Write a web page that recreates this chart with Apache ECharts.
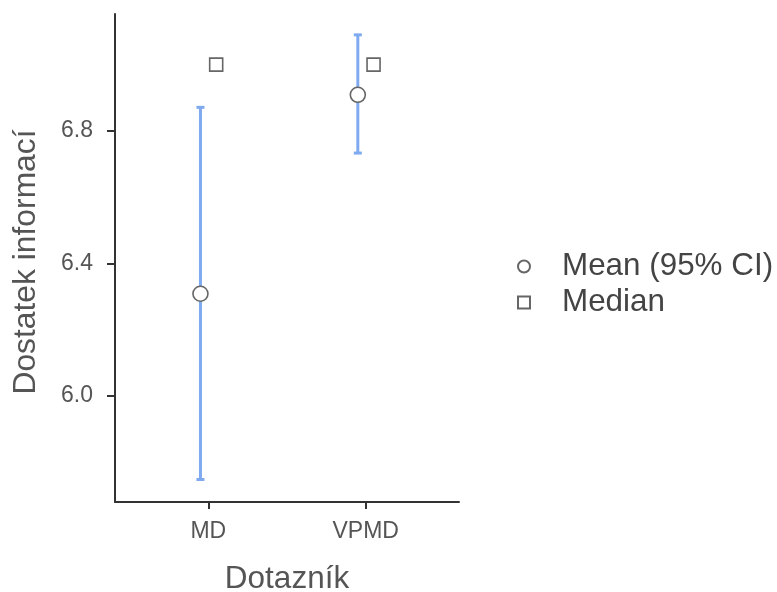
<!DOCTYPE html>
<html>
<head>
<meta charset="utf-8">
<script src="https://cdn.jsdelivr.net/npm/echarts@6/dist/echarts.min.js"></script>
<style>
  html, body { margin: 0; padding: 0; background: #fff; }
  #chart { width: 777px; height: 592px; }
</style>
</head>
<body>
<div id="chart"></div>
<script>
// data
const categories = ['MD', 'VPMD']
const meanValues = [6.308, 6.909]
const ciLower = [5.747, 6.733]
const ciUpper = [6.871, 7.090]
const medianValues = [7.0, 7.0]
const yTicks = [6.0, 6.4, 6.8]

// small horizontal dodge between mean and median (in category units)
const dodge = 0.05
const font = 'Liberation Sans, Arial, sans-serif'

const xPos = categories.map((c, i) => i + 1)

const chart = echarts.init(document.getElementById('chart'))
chart.setOption({
  backgroundColor: '#fff',
  animation: false,
  grid: { left: 115, right: 318, top: 14, bottom: 90, outerBoundsMode: 'none', containLabel: false },
  legend: {
    orient: 'vertical',
    left: 512,
    top: 246,
    padding: 5,
    itemWidth: 12,
    itemHeight: 12,
    itemGap: 5,
    selectedMode: false,
    data: ['Mean (95% CI)', 'Median'],
    textStyle: { fontFamily: font, fontSize: 31.4, color: '#444', padding: [0, 0, 0, 27] }
  },
  xAxis: {
    type: 'value',
    min: 0.407,
    max: 2.593,
    name: 'Dotazník',
    nameLocation: 'middle',
    nameGap: 61,
    nameTextStyle: { fontFamily: font, fontSize: 31.5, color: '#555' },
    splitLine: { show: false },
    axisLine: { lineStyle: { color: '#333', width: 2 } },
    axisTick: { show: true, length: 7, customValues: xPos, lineStyle: { color: '#333', width: 2 } },
    axisLabel: {
      customValues: xPos,
      margin: 18,
      fontFamily: font,
      fontSize: 23,
      color: '#555',
      formatter: v => categories[Math.round(v) - 1] || ''
    }
  },
  yAxis: {
    type: 'value',
    min: 5.679,
    max: 7.153,
    name: 'Dostatek informací',
    nameLocation: 'middle',
    nameGap: 73,
    nameRotate: 90,
    nameTextStyle: { fontFamily: font, fontSize: 31.8, color: '#555', padding: [0, 8, 0, 0] },
    splitLine: { show: false },
    axisLine: { show: true, lineStyle: { color: '#333', width: 2 } },
    axisTick: { show: true, length: 8, customValues: yTicks, lineStyle: { color: '#333', width: 2 } },
    axisLabel: {
      customValues: yTicks,
      margin: 22,
      fontFamily: font,
      fontSize: 23,
      color: '#555',
      formatter: v => v.toFixed(1)
    }
  },
  series: [
    {
      type: 'custom',
      name: 'CI',
      z: 1,
      data: xPos.map((x, i) => [x - dodge, ciLower[i], ciUpper[i]]),
      renderItem: function (params, api) {
        const lo = api.coord([api.value(0), api.value(1)])
        const hi = api.coord([api.value(0), api.value(2)])
        const cap = 4
        const style = { stroke: '#7faaf0', lineWidth: 3 }
        return {
          type: 'group',
          children: [
            { type: 'line', shape: { x1: lo[0], y1: lo[1], x2: hi[0], y2: hi[1] }, style: style },
            { type: 'line', shape: { x1: lo[0] - cap, y1: lo[1], x2: lo[0] + cap, y2: lo[1] }, style: style },
            { type: 'line', shape: { x1: hi[0] - cap, y1: hi[1], x2: hi[0] + cap, y2: hi[1] }, style: style }
          ]
        }
      }
    },
    {
      type: 'scatter',
      name: 'Mean (95% CI)',
      z: 3,
      symbol: 'circle',
      symbolSize: 15,
      itemStyle: { color: '#fff', borderColor: '#666', borderWidth: 1.6, opacity: 1 },
      data: xPos.map((x, i) => [x - dodge, meanValues[i]])
    },
    {
      type: 'scatter',
      name: 'Median',
      z: 3,
      symbol: 'rect',
      symbolSize: 13,
      itemStyle: { color: '#fff', borderColor: '#666', borderWidth: 1.6, opacity: 1 },
      data: xPos.map((x, i) => [x + dodge, medianValues[i]])
    }
  ]
})
</script>
</body>
</html>
